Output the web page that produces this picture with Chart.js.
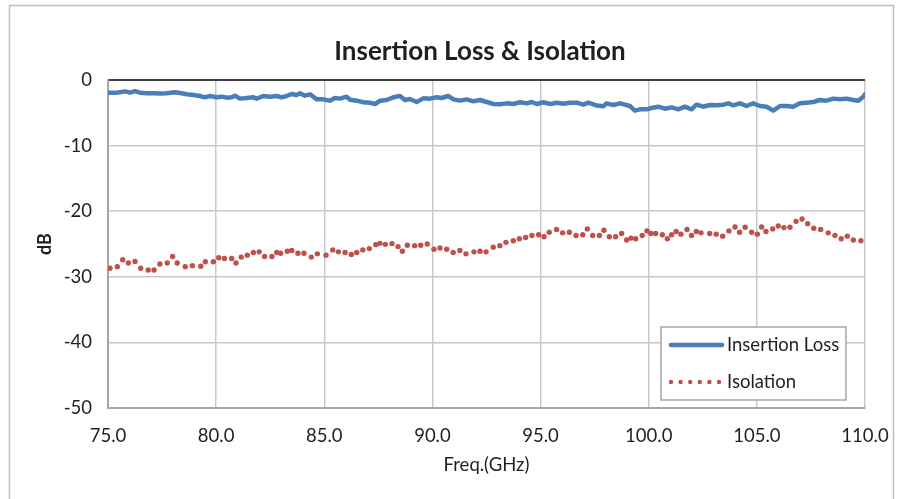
<!DOCTYPE html>
<html>
<head>
<meta charset="utf-8">
<script src="https://cdn.jsdelivr.net/npm/chart.js@4"></script>
<style>
  html, body { margin: 0; padding: 0; background: #fff; }
  #chart { display: block; }
</style>
</head>
<body>
<canvas id="chart" width="900" height="499"></canvas>
<script>
// Insertion loss trace (GHz, dB)
const ilFreq = [
	75.0, 75.4, 75.79, 76.02, 76.25, 76.48, 76.79, 77.1, 77.4, 77.7, 78.1, 78.4, 78.64, 78.95,
	79.25, 79.48, 79.72, 80.02, 80.26, 80.49, 80.72, 80.87, 81.1, 81.41, 81.72, 81.87, 82.18,
	82.49, 82.8, 83.03, 83.26, 83.49, 83.72, 83.88, 84.1, 84.34, 84.65, 84.95, 85.26, 85.49,
	85.73, 86.03, 86.19, 86.5, 86.81, 87.11, 87.35, 87.58, 87.88, 88.19, 88.5, 88.73, 88.96,
	89.27, 89.58, 89.89, 90.2, 90.43, 90.73, 90.97, 91.27, 91.58, 91.89, 92.2, 92.51, 92.82,
	93.12, 93.43, 93.74, 94.05, 94.36, 94.59, 94.82, 95.13, 95.44, 95.75, 96.05, 96.36, 96.67,
	96.98, 97.21, 97.6, 97.9, 98.05, 98.36, 98.67, 98.9, 99.13, 99.36, 99.59, 99.9, 100.13,
	100.44, 100.75, 101.06, 101.37, 101.67, 101.98, 102.21, 102.52, 102.83, 103.14, 103.45,
	103.68, 103.91, 104.22, 104.52, 104.83, 105.14, 105.45, 105.76, 106.07, 106.37, 106.68,
	106.99, 107.3, 107.61, 107.91, 108.22, 108.53, 108.84, 109.15, 109.46, 109.69, 109.92, 110.0
];
const ilLoss = [
	-1.95, -1.93, -1.73, -1.93, -1.68, -1.93, -2.03, -2.03, -2.05, -2.03, -1.88, -2.03, -2.18, -2.29,
	-2.44, -2.64, -2.44, -2.64, -2.54, -2.69, -2.64, -2.39, -2.84, -2.74, -2.64, -2.84, -2.44,
	-2.54, -2.44, -2.64, -2.44, -2.13, -2.29, -2.03, -2.39, -2.18, -2.95, -2.95, -3.15, -2.74,
	-2.84, -2.54, -3.0, -3.15, -3.40, -3.46, -3.66, -3.15, -3.05, -2.64, -2.44, -3.05, -2.9,
	-3.35, -2.8, -2.84, -2.64, -2.74, -2.44, -2.95, -3.15, -2.95, -3.25, -3.05, -3.35, -3.66,
	-3.71, -3.56, -3.66, -3.40, -3.56, -3.35, -3.66, -3.40, -3.66, -3.46, -3.61, -3.46, -3.46,
	-3.76, -3.46, -3.9, -4.0, -3.56, -3.81, -3.56, -3.76, -3.96, -4.67, -4.47, -4.47, -4.27,
	-4.07, -4.37, -4.17, -4.47, -4.07, -4.47, -3.76, -4.07, -3.81, -3.86, -3.76,
	-3.56, -3.86, -3.56, -3.96, -3.56, -3.96, -4.07, -4.67, -3.96, -3.96, -4.07,
	-3.56, -3.46, -3.35, -3.05, -3.15, -2.84, -2.95, -2.84, -3.05, -3.15, -2.54, -2.2
];

// Isolation trace (GHz, dB)
const isoFreq = [
	75.09, 75.43, 75.68, 75.94, 76.25, 76.51, 76.86, 77.13, 77.4, 77.74, 77.99, 78.2, 78.57, 78.9,
	79.29, 79.5, 79.87, 80.12, 80.38, 80.72, 80.92, 81.16, 81.44, 81.72, 81.99, 82.24, 82.58, 82.8,
	82.98, 83.29, 83.5, 83.78, 84.06, 84.4, 84.68, 85.08, 85.39, 85.65, 85.96, 86.25, 86.5, 86.78,
	87.08, 87.38, 87.57, 87.82, 88.13, 88.41, 88.61, 88.84, 89.18, 89.46, 89.76, 90.07, 90.35,
	90.66, 90.96, 91.27, 91.55, 91.92, 92.2, 92.48, 92.81, 93.12, 93.4, 93.74, 94.02, 94.31, 94.6,
	94.91, 95.16, 95.4, 95.74, 96.02, 96.33, 96.64, 96.95, 97.16, 97.41, 97.72, 97.93, 98.18,
	98.47, 98.75, 98.98, 99.18, 99.4, 99.7, 99.92, 100.1, 100.32, 100.63, 100.86, 101.06, 101.27,
	101.49, 101.77, 101.98, 102.2, 102.42, 102.82, 103.12, 103.42, 103.71, 103.99, 104.2, 104.46,
	104.76, 105.02, 105.22, 105.42, 105.73, 105.99, 106.25, 106.53, 106.81, 107.09, 107.35,
	107.63, 107.95, 108.3, 108.61, 108.9, 109.18, 109.46, 109.81
];
const isoLoss = [
	-28.7, -28.45, -27.4, -27.9, -27.65, -28.7, -28.96, -28.96, -28.05, -27.9, -26.9, -27.9, -28.45, -28.3,
	-28.4, -27.7, -27.7, -27.1, -27.2, -27.2, -27.9, -27.0, -26.7, -26.3, -26.2, -26.9, -26.9, -26.3,
	-26.4, -26.1, -26.0, -26.4, -26.4, -27.0, -26.5, -26.7, -25.9, -26.2, -26.3, -26.6, -26.3, -25.9,
	-25.7, -25.1, -24.9, -25.05, -24.95, -25.4, -26.1, -25.2, -25.25, -25.2, -25.0, -25.8, -25.6,
	-25.8, -26.3, -26.0, -26.5, -26.2, -26.1, -26.2, -25.5, -25.25, -24.75, -24.5, -24.2, -24.0, -23.7,
	-23.6, -23.9, -23.2, -22.8, -23.3, -23.2, -23.7, -23.6, -22.7, -23.7, -23.7, -22.9, -23.9,
	-23.9, -23.4, -24.4, -24.1, -24.2, -23.7, -23.0, -23.4, -23.4, -23.6, -24.2, -23.6, -23.1,
	-23.5, -22.8, -23.7, -23.1, -23.3, -23.4, -23.5, -23.8, -23.0, -22.4, -23.2, -22.45,
	-23.2, -23.5, -22.4, -23.1, -22.7, -22.25, -22.5, -22.45, -21.55, -21.2, -21.9,
	-22.6, -22.8, -23.3, -23.7, -24.2, -23.8, -24.4, -24.5
];

const chartTitle = 'Insertion Loss & Isolation';
const seriesNames = ['Insertion Loss', 'Isolation'];
const ilColor = '#4a7ebb';
const isoColor = '#c0504d';
const textColor = '#1f1f1f';
const fontFamily = 'Lato, "Open Sans", sans-serif';

Chart.defaults.font.family = fontFamily;
Chart.defaults.color = textColor;

const toXY = (xs, ys) => xs.map((x, i) => ({ x, y: ys[i] }));

// white page, outer frame and the title (Excel centres it a bit right of the canvas middle)
const framePlugin = {
	id: 'frame',
	beforeDraw(chart) {
		const ctx = chart.ctx;
		ctx.save();
		ctx.fillStyle = '#fff';
		ctx.fillRect(0, 0, chart.width, chart.height);
		ctx.strokeStyle = '#bfbfbf';
		ctx.lineWidth = 1.5;
		ctx.strokeRect(9.5, 5.5, 884, 600);
		ctx.fillStyle = textColor;
		ctx.font = 'bold 26px ' + fontFamily;
		ctx.textAlign = 'center';
		ctx.textBaseline = 'middle';
		ctx.fillText(chartTitle, 480, 52);
		ctx.restore();
	},
};

// Excel-style legend box inside the plot area
const boxLegendPlugin = {
	id: 'boxLegend',
	afterDatasetsDraw(chart) {
		const ctx = chart.ctx;
		const bx = 661, by = 327, bw = 185, bh = 73;
		ctx.save();
		ctx.fillStyle = '#fff';
		ctx.fillRect(bx, by, bw, bh);
		ctx.strokeStyle = '#a6a6a6';
		ctx.lineWidth = 1.5;
		ctx.strokeRect(bx, by, bw, bh);

		ctx.strokeStyle = ilColor;
		ctx.lineWidth = 4.5;
		ctx.lineCap = 'round';
		ctx.beginPath();
		ctx.moveTo(bx + 10, by + 18);
		ctx.lineTo(bx + 61, by + 18);
		ctx.stroke();

		ctx.fillStyle = isoColor;
		for (let i = 0; i < 6; i++) {
			ctx.beginPath();
			ctx.arc(bx + 10 + i * 9.6, by + 55, 2.2, 0, Math.PI * 2);
			ctx.fill();
		}

		ctx.fillStyle = textColor;
		ctx.font = '18.5px ' + fontFamily;
		ctx.textBaseline = 'middle';
		ctx.fillText(seriesNames[0], bx + 66, by + 18);
		ctx.fillText(seriesNames[1], bx + 66, by + 55);
		ctx.restore();
	},
};

new Chart(document.getElementById('chart'), {
	type: 'line',
	data: {
		datasets: [
			{
				label: seriesNames[0],
				data: toXY(ilFreq, ilLoss),
				borderColor: ilColor,
				backgroundColor: ilColor,
				borderWidth: 4.5,
				borderCapStyle: 'round',
				borderJoinStyle: 'round',
				pointRadius: 0,
				tension: 0,
			},
			{
				label: seriesNames[1],
				data: toXY(isoFreq, isoLoss),
				showLine: false,
				borderColor: isoColor,
				backgroundColor: isoColor,
				pointRadius: 2.7,
				pointBorderWidth: 0,
			},
		],
	},
	options: {
		responsive: false,
		animation: false,
		layout: { padding: { left: 0, right: 35, top: 80, bottom: 0 } },
		plugins: {
			legend: { display: false },
			tooltip: { enabled: false },
			title: { display: false },
		},
		scales: {
			x: {
				type: 'linear',
				min: 75,
				max: 110,
				afterFit(scale) {
					scale.height = 91;
					scale.paddingLeft = 0;
					scale.paddingRight = 0;
				},
				ticks: {
					stepSize: 5,
					padding: 17,
					font: { size: 18.5 },
					color: textColor,
					callback: (v) => v.toFixed(1),
				},
				grid: { color: '#c8c8c8', lineWidth: 1.5, drawTicks: false },
				border: { color: '#a6a6a6', width: 2 },
				title: {
					display: true,
					text: 'Freq.(GHz)',
					font: { size: 18.5 },
					color: textColor,
					padding: { top: 0, bottom: 23 },
				},
			},
			y: {
				min: -50,
				max: 0,
				afterFit(scale) { scale.width = 108; },
				ticks: {
					stepSize: 10,
					padding: 16,
					font: { size: 18.5 },
					color: textColor,
				},
				grid: {
					drawTicks: false,
					color: (c) => (c.tick && c.tick.value === 0 ? '#404040' : '#c8c8c8'),
					lineWidth: (c) => (c.tick && c.tick.value === 0 ? 2 : 1.5),
				},
				border: { color: '#a6a6a6', width: 2 },
				title: {
					display: true,
					text: 'dB',
					font: { size: 18, weight: 'bold' },
					color: textColor,
					padding: { top: 34, bottom: 0 },
				},
			},
		},
	},
	plugins: [framePlugin, boxLegendPlugin],
});
</script>
</body>
</html>
